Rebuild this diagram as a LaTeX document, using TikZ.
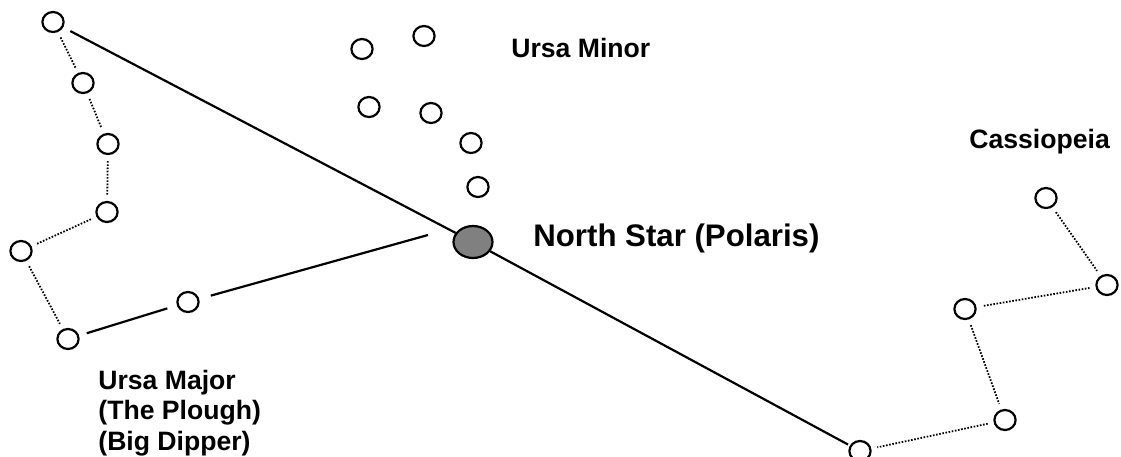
\documentclass[tikz,border=0pt]{standalone}
\usepackage{fontspec}
\setmainfont{Liberation Sans}
\usetikzlibrary{shapes.geometric}
\definecolor{polgray}{RGB}{128,128,128}
\begin{document}
\begin{tikzpicture}[x=0.5pt,y=-0.5pt,
  star/.style={ellipse,draw,line width=1.1pt,minimum width=10.6pt,minimum height=10pt,inner sep=0pt,fill=white},
  pole/.style={ellipse,draw,line width=1.1pt,fill=polgray,minimum width=19.5pt,minimum height=16pt,inner sep=0pt},
  solidlink/.style={line width=1.1pt},
  dotlink/.style={line width=0.9pt,dash pattern=on 0.8pt off 0.8pt,shorten <=3pt,shorten >=3pt},
  lbl/.style={font=\bfseries\fontsize{13.3}{15.3}\selectfont,anchor=base west,inner sep=0pt},
  biglbl/.style={font=\bfseries\fontsize{15.6}{18}\selectfont,anchor=base west,inner sep=0pt},
]
\useasboundingbox (0,0) rectangle (1121,456);

% Ursa Major
\node[star] (a) at (53,22) {};
\node[star] (b) at (83,83) {};
\node[star] (c) at (108,144) {};
\node[star] (d) at (107,212) {};
\node[star] (e) at (21,251) {};
\node[star] (f) at (68,339) {};
\node[star] (g) at (188,302) {};

% Polaris
\node[pole] (p) at (473,242) {};

% Ursa Minor
\node[star] (m1) at (362,49) {};
\node[star] (m2) at (424,36) {};
\node[star] (m3) at (369,107) {};
\node[star] (m4) at (431,113) {};
\node[star] (m5) at (471,143) {};
\node[star] (m6) at (478,187) {};

% Cassiopeia
\node[star] (c1) at (1046,198) {};
\node[star] (c2) at (1107,285) {};
\node[star] (c3) at (965,309) {};
\node[star] (c4) at (1005,420) {};
\node[star] (c5) at (860,451) {};

\coordinate (gend) at (428,235);

% solid lines
\draw[solidlink,shorten <=4pt] (a) -- (p);
\draw[solidlink,shorten >=1pt] (p) -- (c5);
\draw[solidlink,shorten <=4pt,shorten >=5pt] (f) -- (g);
\draw[solidlink,shorten <=6pt] (g) -- (gend);

% dotted lines
\draw[dotlink] (a) -- (b);
\draw[dotlink] (b) -- (c);
\draw[dotlink] (c) -- (d);
\draw[dotlink] (d) -- (e);
\draw[dotlink] (e) -- (f);
\draw[dotlink] (c1) -- (c2);
\draw[dotlink] (c2) -- (c3);
\draw[dotlink] (c3) -- (c4);
\draw[dotlink] (c4) -- (c5);

% labels
\node[lbl] (umin) at (511,57) {Ursa Minor};
\node[biglbl] (ns) at (533,246) {North Star (Polaris)};
\node[lbl] (cas) at (969,148) {Cassiopeia};
\node[lbl] (uma1) at (98,389) {Ursa Major};
\node[lbl] (uma2) at (98,419) {(The Plough)};
\node[lbl] (uma3) at (98,450) {(Big Dipper)};
\end{tikzpicture}
\end{document}
